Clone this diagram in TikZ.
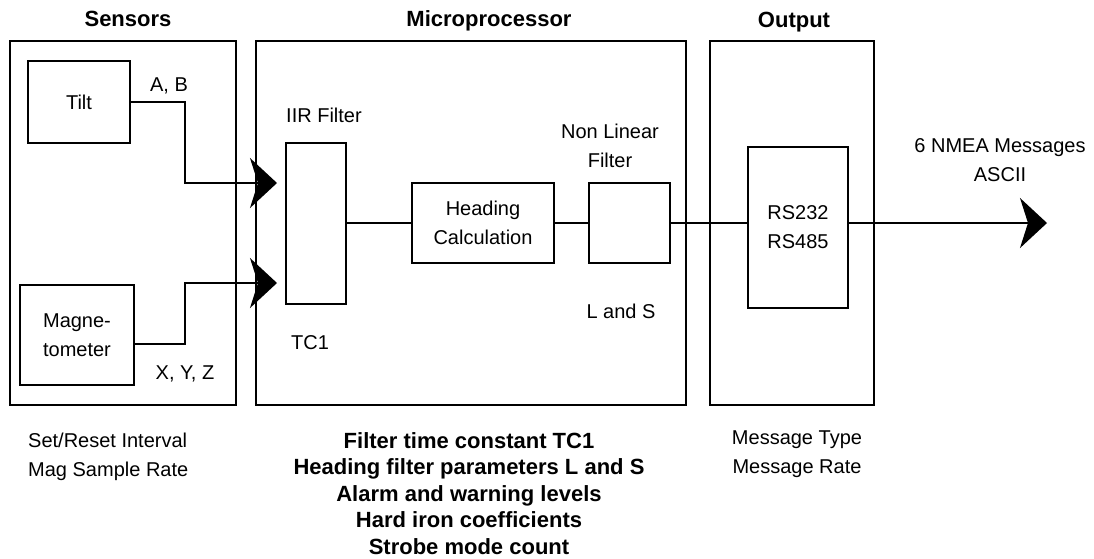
\documentclass[tikz,border=0pt]{standalone}
\usepackage{fontspec}
\setmainfont{Liberation Sans}
\usetikzlibrary{arrows.meta}
\def\blockbox(#1,#2,#3,#4,#5,#6){
  \node[blk, minimum width=#1pt, minimum height=#2pt] (#3) at (#4,#5) {#6};
}

\begin{document}
\begin{tikzpicture}[x=1pt, y=-1pt,
  blk/.style={draw, line width=2pt, inner sep=0pt, align=center, font=\fontsize{20}{29}\selectfont},
  lbl/.style={inner sep=0pt, align=center, font=\fontsize{20}{29}\selectfont},
  ttl/.style={inner sep=0pt, anchor=base, font=\fontsize{22}{26.5}\selectfont\bfseries},
  wire/.style={line width=2pt},
  sig/.style={line width=2pt, -{Stealth[length=27pt, width=50pt, inset=8pt]}}]
\useasboundingbox (0,0) rectangle (1094,558);
% outer blocks
\blockbox(226,364,sens_box,123,223,)
\blockbox(430,364,mcu_box,471,223,)
\blockbox(164,364,out_box,792,223,)
\node[ttl] (sens_ttl) at (128,26) {Sensors};
\node[ttl] (mcu_ttl) at (489,26) {Microprocessor};
\node[ttl] (out_ttl) at (794,27) {Output};
% inner blocks
\blockbox(102,82,tilt_box,79,102,Tilt)
\blockbox(114,100,mag_box,77,335,Magne-\\tometer)
\blockbox(60,161,iir_box,316,223,)
\blockbox(142,80,hdg_box,483,223,Heading\\Calculation)
\blockbox(81,80,nlf_box,629.5,223,)
\blockbox(100,161,rs_box,798,227.5,RS232\\RS485)
% labels
\node[lbl, anchor=base] (ab_lbl) at (169,91) {A, B};
\node[lbl, anchor=base] (xyz_lbl) at (185,379) {X, Y, Z};
\node[lbl, anchor=base] (iir_lbl) at (324,122) {IIR Filter};
\node[lbl, anchor=base] (tc_lbl) at (310,349) {TC1};
\node[lbl] (nlf_lbl) at (610,146) {Non Linear\\Filter};
\node[lbl, anchor=base] (ls_lbl) at (621,318) {L and S};
\node[lbl] (nmea_lbl) at (1000,160.5) {6 NMEA Messages\\ASCII};
% notes under the blocks
\node[lbl, anchor=north west, align=left] (sens_note) at (28,433) {Set/Reset Interval\\Mag Sample Rate};
\node[lbl, anchor=north, font=\fontsize{22}{26.5}\selectfont\bfseries] (mcu_note) at (469,432)
  {Filter time constant TC1\\Heading filter parameters L and S\\Alarm and warning levels\\Hard iron coefficients\\Strobe mode count};
\node[lbl, anchor=north] (out_note) at (797,431) {Message Type\\Message Rate};
% signal paths
\coordinate (ab_in) at (277,183);
\coordinate (xyz_in) at (277,283);
\coordinate (nmea_out) at (1047,223);
\draw[sig] (tilt_box.east) -- ++(54,0) |- (ab_in);
\draw[sig] ([yshift=-9pt]mag_box.east) -- ++(50,0) |- (xyz_in);
\draw[wire] (iir_box.east) -- (hdg_box.west);
\draw[wire] (hdg_box.east) -- (nlf_box.west);
\draw[wire] (nlf_box.east) -- (nlf_box.east -| rs_box.west);
\draw[sig] (rs_box.east |- nmea_out) -- (nmea_out);
\end{tikzpicture}
\end{document}
